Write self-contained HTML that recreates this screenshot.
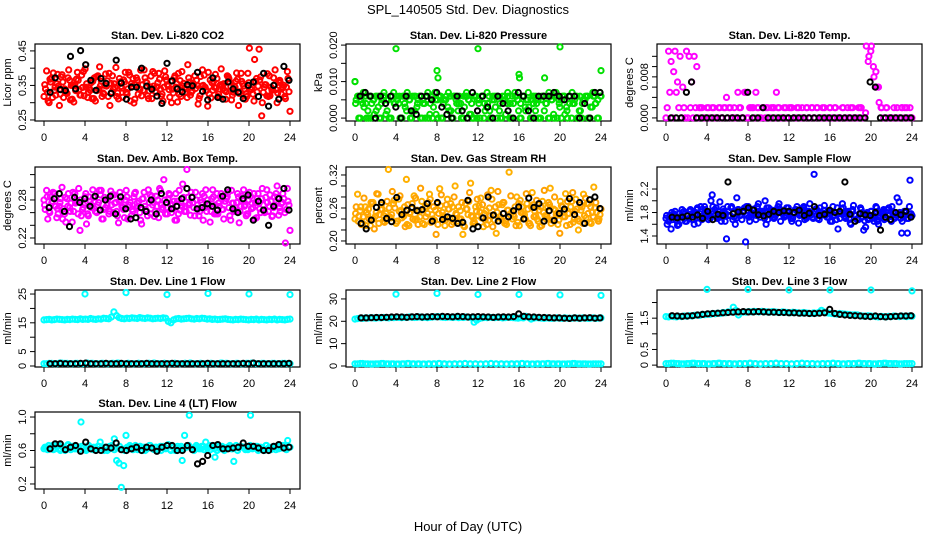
<!DOCTYPE html>
<html><head><meta charset="utf-8">
<style>
body{margin:0;background:#fff;}
svg{display:block;font-family:"Liberation Sans",sans-serif;}
</style></head>
<body>
<svg id="chart" width="936" height="540" viewBox="0 0 936 540" xmlns="http://www.w3.org/2000/svg">
<rect x="0" y="0" width="936" height="540" fill="#fff"/>
<text x="468" y="14" font-size="13" text-anchor="middle">SPL_140505  Std. Dev. Diagnostics</text>
<text x="468" y="531" font-size="13" text-anchor="middle">Hour of Day (UTC)</text>
</svg>
<script>
// ---- data (values in stated units) ----
const hourTicks = [0,4,8,12,16,20,24];
const outlierHours = [4,8,12,16,20,24];
// Panel 1 CO2 (x0.001 ppm)
const co2A = [318,392,300,372,335,355,292,381,340,327,365,310,352,388,322,344,398,315,336,362,305,378,349,328,383,318,356,339,402,311,347,366,330,388,355,299,372,341,320,395,358,334,312,385,346,368,325,392,352,316,339,378,302,364,348,330,410,322,357,341,296,376,350,334,388,314,361,343,325,398,355,332,370,308,348,386,327,362,340,318,458,345,425,331,366,300,352,384,320,340,395,328,358,345,312,370];
const co2B = [340,305,360,386,322,348,375,315,330,395,350,302,368,338,380,320,355,342,312,372,335,404,318,350,363,292,378,345,328,360,316,388,340,305,370,352,325,394,336,360,312,377,348,330,385,318,345,366,338,300,372,355,324,390,342,315,360,334,378,350,320,395,345,290,366,336,382,318,352,340,310,375,347,330,362,292,385,348,325,358,338,305,370,455,262,345,320,378,336,352,300,365,342,318,390,275];
const co2C = [352,330,368,315,345,382,325,360,338,372,308,350,335,365,322,390,345,330,358,312,375,340,362,325,348,385,330,355,318,370,342,360,325,380,348,310,365,338,352,372,320,346,390,332,358,340,305,375,348,362,328,345,385,318,356,340,372,330,352,365,312,348,380,336,325,358,345,370,315,350,335,378,360,322,345,368,332,355,310,385,340,325,362,348,375,330,352,318,345,372,338,360,325,350,345,332];
const co2Black = [330,372,338,335,434,340,451,410,365,336,370,356,327,423,357,310,345,345,400,348,339,319,298,414,363,340,331,352,349,388,333,308,372,315,310,360,340,330,312,350,360,318,385,290,350,310,405,365];
// Panel 2 pressure (x0.001 kPa)
const presA = [10,6,0,4,6,2,0,5,6,3,0,6,1,5,0,7,6,4,0,6,2,5,0,6,3,6,0,4,6,1,0,7,5,6,0,5,3,6,0,6,2,4,0,6,5,1,0,6,4,6,0,3,6,0,5,6,2,0,6,4,0,6,7,5,0,6,3,5,0,6,2,5,0,6,4,0,6,1,7,5,0,6,3,6,0,4,6,2,0,5,6,0,3,6,0,7];
const presB = [5,0,6,3,0,6,4,1,6,0,5,6,2,0,6,4,5,0,6,3,6,0,2,6,5,0,4,6,0,6,3,1,6,0,5,6,2,0,6,4,6,0,3,6,1,0,6,5,0,6,2,4,0,6,3,6,0,5,1,6,0,4,6,2,0,6,5,3,0,6,4,0,6,2,6,0,5,6,0,3,6,1,0,6,4,6,0,2,5,6,0,3,6,4,0,6];
const presC = [4,6,5,7,4,0,6,5,2,6,4,7,5,0,6,4,5,6,0,4,7,5,6,2,4,6,5,0,7,4,6,5,0,6,4,5,7,2,6,5,4,0,6,7,5,4,6,0,5,6,4,7,2,5,6,0,4,6,5,7,4,0,6,5,4,6,2,7,5,4,6,0,5,6,4,7,5,0,6,4,5,6,2,4,7,5,0,6,4,5,6,0,7,4,5,6];
const presBlack = [6,7,6,0,6,4,6,3,0,6,2,1,6,6,5,7,3,1,0,6,2,0,7,2,6,3,0,6,4,2,0,7,6,2,0,6,6,6,7,6,5,6,6,0,4,0,7,7];
const presOutT = [0,4,8,8.1,12,16,16.05,18.5,20,24];
const presOutV = [10,19,13,11,19,12,11,11,19.5,13];
// Panel 3 temp (x0.001 C)
const tempA = [0,13,11,9,5,2,0,2,13,12,7,12,10,2,2,0,2,0,2,0,0,2,0,2,0,2,0,0,5,2,0,5,0,2,2,5,2,0,2,2,0,2,2,5,2,0,2,0,2,2,0,2,0,2,0,2,0,2,0,2,0,2,0,0,2,0,2,0,0,2,0,0,2,0,0,2,2,0,14,12,14,8,6,3,2,0,2,0,0,0,2,0,2,2,0,2];
const tempB = [2,5,0,13,7,12,6,0,0,2,0,2,0,2,0,0,2,0,2,0,2,0,2,4,2,0,2,0,2,0,5,0,2,2,0,2,0,2,0,2,0,2,0,2,0,0,2,0,2,0,0,2,0,0,2,0,2,0,2,0,0,2,0,2,0,2,0,0,2,0,2,0,2,0,0,2,0,1,11,13,10,9,6,2,0,2,0,0,2,0,0,2,0,2,0,0];
const tempBlack = [0,0,0,5,7,0,0,0,0,0,0,0,0,0,0,5,0,0,2,0,0,0,0,0,0,0,0,0,0,0,0,0,0,0,0,0,0,0,0,7,6,0,0,0,0,0,0,0];
// Panel 4 amb box temp (x0.001 C)
const ambA = [280,295,262,275,290,252,270,300,258,282,268,245,290,276,232,265,285,258,278,296,262,272,288,250,268,282,294,260,276,244,280,265,295,272,255,285,268,278,242,292,262,276,286,254,270,298,265,280,258,288,272,248,278,264,305,270,284,256,276,292,266,280,248,296,272,262,285,258,275,290,250,282,268,295,262,276,244,286,270,258,292,275,250,282,266,298,260,276,288,255,272,284,262,290,212,278];
const ambB = [265,250,285,292,270,258,282,266,245,290,275,262,280,298,255,272,242,285,268,278,260,295,250,284,272,262,288,275,255,292,268,280,250,276,262,292,270,248,282,265,296,258,276,286,252,272,312,268,290,260,278,248,295,270,262,328,275,285,255,272,262,290,268,280,245,296,272,258,285,265,278,292,248,275,262,285,270,296,255,280,266,290,252,275,282,262,296,270,254,285,302,268,276,260,298,232];
const ambC = [272,285,260,278,290,266,276,250,284,270,262,292,275,258,280,268,290,255,272,284,262,276,295,265,280,258,272,288,262,278,270,252,285,272,265,290,275,260,282,270,255,288,272,262,280,295,268,258,282,274,266,290,258,276,284,262,272,292,268,280,255,276,286,262,272,282,258,290,270,265,278,285,255,275,268,290,262,280,272,258,286,268,276,290,260,272,284,262,278,268,290,256,274,282,265,272];
const ambBlack = [268,282,290,262,238,284,276,282,270,286,264,280,286,258,285,266,250,252,268,262,280,258,290,276,266,270,282,298,284,266,268,274,270,264,286,296,266,260,282,288,248,278,264,240,270,282,298,264];
// Panel 5 RH (x0.001 percent)
const rhA = [240,285,255,232,262,248,228,270,245,285,258,236,250,330,242,268,232,276,256,245,312,228,260,282,240,254,272,230,262,285,248,238,268,295,252,228,276,242,262,300,236,255,212,268,248,305,232,262,246,278,226,255,238,292,248,214,266,240,270,230,325,252,244,280,228,262,248,268,232,288,254,240,226,272,246,262,296,238,256,230,272,244,286,250,262,234,276,220,256,285,242,268,232,298,252,240];
const rhB = [262,245,230,278,252,240,268,222,286,248,258,234,272,244,290,260,236,282,248,226,266,252,240,278,230,296,256,244,270,234,262,212,250,284,240,266,258,230,280,248,240,270,226,258,288,244,232,276,252,266,238,284,246,226,262,290,244,270,236,256,282,248,228,268,252,240,286,232,262,244,274,256,228,292,246,266,238,280,250,214,262,244,272,230,288,254,240,266,232,278,250,262,244,270,236,258];
const rhC = [250,236,262,244,228,258,270,240,252,232,266,246,238,260,248,274,236,254,242,262,230,250,268,238,256,244,232,262,250,276,240,256,230,264,246,238,258,268,234,250,262,240,228,258,272,246,236,254,264,242,250,230,260,276,238,252,244,266,232,256,248,240,262,234,274,250,240,258,228,266,246,236,262,252,240,270,232,258,248,238,264,254,228,250,272,240,258,236,262,246,268,234,252,260,240,248];
const rhBlack = [232,222,238,261,270,241,235,279,248,256,261,255,257,268,236,270,239,244,241,232,234,274,222,226,242,280,247,236,250,244,255,262,240,278,261,268,236,255,237,250,258,277,248,270,232,275,280,259];
// Panel 6 sample flow (x0.01 ml/min)
const flowA = [170,165,152,178,168,160,175,182,165,170,178,160,185,172,168,190,180,175,210,185,170,198,180,165,190,175,168,160,185,175,180,130,190,175,185,168,195,182,175,160,188,178,170,185,195,180,172,188,180,165,178,190,175,185,168,180,195,172,182,170,188,178,175,182,165,190,180,152,178,188,170,182,160,192,175,168,185,150,178,170,182,165,188,172,180,168,185,175,190,170,205,180,165,175,145,235];
const flowB = [160,175,168,182,158,172,180,165,176,185,168,178,162,190,175,182,168,200,178,188,172,165,182,135,175,190,172,205,180,168,188,175,165,185,178,190,172,182,200,168,185,178,175,190,165,182,176,188,170,180,185,162,178,190,170,182,176,245,185,168,180,192,172,182,165,175,188,170,195,172,180,162,185,175,170,188,178,155,168,182,175,190,160,178,185,170,188,165,180,175,198,145,182,170,190,175];
const flowC = [175,168,180,172,165,178,185,170,176,182,168,175,188,178,172,185,180,170,190,176,182,172,186,178,175,188,180,170,185,176,182,190,172,180,186,175,182,178,170,188,176,184,172,180,186,178,174,182,176,170,185,180,176,188,172,182,178,170,186,180,175,184,178,172,182,176,168,180,186,174,178,170,182,176,168,178,172,166,180,174,170,178,165,175,182,170,176,168,180,172,178,170,176,180,170,178];
const flowBlack = [172,171,172,174,172,176,170,182,168,177,175,232,178,181,182,188,184,176,174,177,182,180,183,182,180,184,175,179,190,175,177,184,180,182,232,177,165,178,176,175,180,150,172,168,180,176,182,172];
// Panel 7 line 1 flow (x0.1 ml/min)
const line1Upper = [160,161,162,160,161,163,162,161,160,162,161,163,162,161,164,162,163,162,165,163,162,164,163,166,165,164,170,188,175,168,165,164,166,165,167,166,165,168,166,165,167,166,164,165,166,165,167,166,155,150,160,164,165,163,164,165,166,164,163,165,164,166,165,163,164,162,163,161,162,163,164,162,161,160,162,161,163,162,161,160,162,161,163,160,162,161,160,162,161,163,160,162,161,160,162,163];
const line1Lower = [8,9,8,10,9,8,9,8,10,9,8,9,8,9,10,8,9,8,9,8,9,10,8,9,8,9,8,9,10,8,9,8,9,8,10,9,8,9,8,9,10,8,9,8,9,8,9,8];
const line1Black = [8,8,9,8,8,8,9,10,8,8,8,9,8,8,9,8,8,8,8,9,8,8,8,8,9,8,8,8,8,8,8,9,8,8,8,8,8,8,9,8,10,8,8,8,8,8,8,9];
const line1Out = [250,255,248,252,250,248];
// Panel 8 line 2 flow (x0.1 ml/min)
const line2Upper = [210,212,214,213,215,214,216,215,214,216,215,217,216,215,217,216,218,217,216,218,217,219,218,217,218,219,217,218,216,218,219,220,221,219,218,217,219,218,217,219,216,218,217,219,218,217,196,205,212,215,217,216,218,217,216,218,217,215,216,218,217,216,215,214,216,215,222,218,210,214,216,215,214,213,215,214,213,214,215,214,213,215,214,213,214,215,214,213,215,214,213,214,215,213,214,215];
const line2Lower = [10,11,10,9,10,11,10,10,9,10,11,10,10,9,10,10,11,10,9,10,10,11,10,10,9,10,11,10,10,9,10,10,11,10,9,10,10,11,10,10,9,10,11,10,10,9,10,10];
const line2Black = [215,215,216,217,217,218,219,220,219,218,220,221,219,220,221,220,222,221,220,222,221,219,220,221,220,219,218,219,220,219,221,233,222,220,219,218,217,216,215,215,214,213,215,214,215,216,214,215];
const line2Out = [321,325,320,320,318,316];
// Panel 9 line 3 flow (x0.01 ml/min)
const line3Upper = [155,154,156,155,154,156,155,157,156,158,157,159,160,159,162,161,163,162,165,164,166,165,168,167,170,169,185,175,160,168,170,169,171,170,172,171,170,172,171,170,169,171,170,169,168,170,169,168,167,169,168,167,166,168,167,166,165,167,166,168,175,170,167,166,165,164,163,165,164,163,162,161,160,161,160,158,157,156,158,157,156,155,154,156,155,154,156,155,157,156,155,157,156,155,157,156];
const line3Lower = [5,6,5,4,5,6,5,5,4,5,6,5,5,4,5,5,6,5,4,5,5,6,5,5,4,5,6,5,5,4,5,5,6,5,4,5,5,6,5,5,4,5,6,5,5,4,5,5];
const line3Black = [158,157,156,157,158,160,162,164,165,166,167,168,169,170,171,170,170,171,170,169,169,168,168,167,167,166,166,165,165,166,167,178,165,162,160,159,158,157,156,155,157,155,154,155,156,157,157,158];
const line3Out = [242,242,240,240,240,237];
// Panel 10 line 4 flow (x0.01 ml/min)
const line4Cyan = [62,64,66,63,61,65,67,62,64,60,66,63,65,62,64,61,65,63,62,66,64,61,63,65,70,62,64,60,65,63,74,48,45,16,42,78,62,64,61,66,63,65,60,64,62,66,63,61,64,62,60,65,63,67,61,64,60,65,63,48,78,65,102,63,61,66,64,62,65,70,63,61,64,52,66,62,65,60,63,64,62,47,66,63,65,64,61,63,66,62,64,65,61,63,60,66,62,64,63,61,65,63,66,62,72,64];
const line4CyanB = [64,61,63,66,62,65,60,64,63,67,61,65,62,64,94,63,60,66,62,64,61,65,63,60,64,62,66,61,63,65,62,60,64,66,62,63,61,65,64,60,63,66,62,64,61,65,63,62,66,60,64,63,61,65,62,64,66,63,60,64,62,65,61,63,66,64,62,60,65,63,61,64,66,62,63,60,65,64,62,61,102,63,65,60,64,62,66,63,61,64,65,62,63,66,61,64];
const line4Black = [62,68,68,61,64,66,59,70,62,60,60,64,63,69,61,60,62,64,60,64,63,59,64,66,66,60,60,66,61,44,47,54,66,67,62,62,63,64,69,65,65,63,60,60,65,67,63,64];

// ---- layout ----
const colLeft = [35,346,657];
const rowTop = [44,167,290,412];
const BW = 265, BH = 77;
const svg = document.getElementById('chart');
const NS = 'http://www.w3.org/2000/svg';
function mk(tag, attrs, parent){const e=document.createElementNS(NS,tag);for(const k in attrs)e.setAttribute(k,attrs[k]);(parent||svg).appendChild(e);return e;}

function panel(cfg){
  const g = mk('g',{});
  
  
  const L=colLeft[cfg.col], T=rowTop[cfg.row];
  const xs = t => L + 9 + t/24*246;
  const ys = v => T + BH - (v - cfg.lo)/(cfg.hi - cfg.lo)*BH;
  cfg.xs=xs; cfg.ys=ys; cfg.g=g;
  const tt = mk('text',{x:L+BW/2,y:T-5,'font-size':11,'font-weight':'bold','text-anchor':'middle'},g);
  tt.textContent = cfg.title;
  
  
  const xa = mk('g',{},g);
  
  
  hourTicks.forEach(h=>{
    mk('line',{x1:xs(h),x2:xs(h),y1:T+BH,y2:T+BH+5,stroke:'#000','stroke-width':1},xa);
    const tl = mk('text',{x:xs(h),y:T+BH+20,'font-size':11,'text-anchor':'middle'},xa);
    tl.textContent = h;
    
    
  });
  const ya = mk('g',{},g);
  
  
  cfg.ticks.forEach((v,i)=>{
    mk('line',{x1:L-5,x2:L,y1:ys(v),y2:ys(v),stroke:'#000','stroke-width':1},ya);
    if(cfg.labels[i]!==''){
      const yl = mk('text',{x:0,y:0,'font-size':11,'text-anchor':'middle',transform:`translate(${L-9},${ys(v)}) rotate(-90)`},ya);
      yl.textContent = cfg.labels[i];
      
      
    }
  });
  const yt = mk('text',{x:0,y:0,'font-size':11,'text-anchor':'middle',transform:`translate(${L-24},${T+BH/2}) rotate(-90)`},g);
  yt.textContent = cfg.ylab;
  
  
  mk('rect',{x:L,y:T,width:BW,height:BH,fill:'none',stroke:'#000','stroke-width':1.2},g);
  return cfg;
}
function series(cfg, vals, unit, color, t0, t1, name){
  const s = mk('g',{fill:'none',stroke:color,'stroke-width':2},cfg.g);
  
  
  const n = vals.length;
  vals.forEach((v,i)=>{
    const t = n>1 ? t0 + (t1-t0)*i/(n-1) : t0;
    const c = mk('circle',{cx:cfg.xs(t).toFixed(1),cy:cfg.ys(v*unit).toFixed(1),r:2.6},s);
    
    
  });
}
function seriesAt(cfg, times, vals, unit, color, name){
  const s = mk('g',{fill:'none',stroke:color,'stroke-width':2},cfg.g);
  
  
  vals.forEach((v,i)=>{
    const c = mk('circle',{cx:cfg.xs(times[i]).toFixed(1),cy:cfg.ys(v*unit).toFixed(1),r:2.6},s);
    
    
  });
}

const p1 = panel({name:'panel-co2',title:'Stan. Dev. Li-820 CO2',ylab:'Licor ppm',col:0,row:0,lo:0.247,hi:0.470,ticks:[0.25,0.30,0.35,0.40,0.45],labels:['0.25','','0.35','','0.45']});
series(p1,co2A,0.001,'#ff0000',0,23.8,'co2-series-a');
series(p1,co2B,0.001,'#ff0000',0.15,24,'co2-series-b');
series(p1,co2C,0.001,'#ff0000',0.08,23.9,'co2-series-c');
series(p1,co2Black,0.001,'#000000',0.6,23.9,'co2-black-series');

const p2 = panel({name:'panel-pressure',title:'Stan. Dev. Li-820 Pressure',ylab:'kPa',col:1,row:0,lo:-0.0008,hi:0.0203,ticks:[0,0.005,0.010,0.015,0.020],labels:['0.000','','0.010','','0.020']});
series(p2,presA,0.001,'#00e000',0,23.9,'pressure-series-a');
series(p2,presB,0.001,'#00e000',0.12,24,'pressure-series-b');
series(p2,presC,0.001,'#00e000',0.06,23.95,'pressure-series-c');
seriesAt(p2,presOutT,presOutV,0.001,'#00e000','pressure-outliers');
series(p2,presBlack,0.001,'#000000',0.5,23.9,'pressure-black-series');

const p3 = panel({name:'panel-li820-temp',title:'Stan. Dev. Li-820 Temp.',ylab:'degrees C',col:2,row:0,lo:-0.0006,hi:0.0144,ticks:[0,0.002,0.004,0.006,0.008,0.010,0.012],labels:['0.000','','','','0.008','','']});
series(p3,tempA,0.001,'#ff00ff',0,23.8,'temp-series-a');
series(p3,tempB,0.001,'#ff00ff',0.12,24,'temp-series-b');
series(p3,tempBlack,0.001,'#000000',0.5,23.9,'temp-black-series');

const p4 = panel({name:'panel-amb-box-temp',title:'Stan. Dev. Amb. Box Temp.',ylab:'degrees C',col:0,row:1,lo:0.2105,hi:0.332,ticks:[0.22,0.24,0.26,0.28,0.30,0.32],labels:['0.22','','','0.28','','']});
series(p4,ambA,0.001,'#ff00ff',0,23.8,'amb-series-a');
series(p4,ambB,0.001,'#ff00ff',0.12,24,'amb-series-b');
series(p4,ambC,0.001,'#ff00ff',0.06,23.9,'amb-series-c');
series(p4,ambBlack,0.001,'#000000',0.5,23.9,'amb-black-series');

const p5 = panel({name:'panel-gas-rh',title:'Stan. Dev. Gas Stream RH',ylab:'percent',col:1,row:1,lo:0.1945,hi:0.3345,ticks:[0.20,0.22,0.24,0.26,0.28,0.30,0.32],labels:['0.20','','','0.26','','','0.32']});
series(p5,rhA,0.001,'#ffb000',0,23.8,'rh-series-a');
series(p5,rhB,0.001,'#ffa000',0.12,24,'rh-series-b');
series(p5,rhC,0.001,'#ffa800',0.06,23.9,'rh-series-c');
series(p5,rhBlack,0.001,'#000000',0.6,23.9,'rh-black-series');

const p6 = panel({name:'panel-sample-flow',title:'Stan. Dev. Sample Flow',ylab:'ml/min',col:2,row:1,lo:1.264,hi:2.575,ticks:[1.4,1.6,1.8,2.0,2.2],labels:['1.4','','1.8','','2.2']});
series(p6,flowA,0.01,'#0000ff',0,23.8,'flow-series-a');
series(p6,flowB,0.01,'#0000ff',0.12,24,'flow-series-b');
series(p6,flowC,0.01,'#0000ff',0.06,23.9,'flow-series-c');
series(p6,flowBlack,0.01,'#000000',0.6,23.9,'flow-black-series');

const p7 = panel({name:'panel-line1-flow',title:'Stan. Dev. Line 1 Flow',ylab:'ml/min',col:0,row:2,lo:-0.35,hi:26.4,ticks:[0,5,10,15,20,25],labels:['0','5','','15','','25']});
series(p7,line1Upper,0.1,'#00ffff',0,24,'line1-cyan-upper');
series(p7,line1Lower,0.1,'#00ffff',0,24,'line1-cyan-lower');
series(p7,line1Lower,0.1,'#00ffff',0.25,23.75,'line1-cyan-lower-offset');
seriesAt(p7,outlierHours,line1Out,0.1,'#00ffff','line1-outliers');
series(p7,line1Black,0.1,'#000000',0.6,23.9,'line1-black-series');

const p8 = panel({name:'panel-line2-flow',title:'Stan. Dev. Line 2 Flow',ylab:'ml/min',col:1,row:2,lo:-0.45,hi:34,ticks:[0,10,20,30],labels:['0','10','20','30']});
series(p8,line2Upper,0.1,'#00ffff',0,24,'line2-cyan-upper');
series(p8,line2Lower,0.1,'#00ffff',0,24,'line2-cyan-lower');
series(p8,line2Lower,0.1,'#00ffff',0.25,23.75,'line2-cyan-lower-offset');
seriesAt(p8,outlierHours,line2Out,0.1,'#00ffff','line2-outliers');
series(p8,line2Black,0.1,'#000000',0.6,23.9,'line2-black-series');

const p9 = panel({name:'panel-line3-flow',title:'Stan. Dev. Line 3 Flow',ylab:'ml/min',col:2,row:2,lo:-0.06,hi:2.4,ticks:[0,0.5,1.0,1.5,2.0],labels:['0','0.5','','1.5','']});
series(p9,line3Upper,0.01,'#00ffff',0,24,'line3-cyan-upper');
series(p9,line3Lower,0.01,'#00ffff',0,24,'line3-cyan-lower');
series(p9,line3Lower,0.01,'#00ffff',0.25,23.75,'line3-cyan-lower-offset');
seriesAt(p9,outlierHours,line3Out,0.01,'#00ffff','line3-outliers');
series(p9,line3Black,0.01,'#000000',0.6,23.9,'line3-black-series');

const p10 = panel({name:'panel-line4-flow',title:'Stan. Dev. Line 4 (LT) Flow',ylab:'ml/min',col:0,row:3,lo:0.14,hi:1.06,ticks:[0.2,0.4,0.6,0.8,1.0],labels:['0.2','','0.6','','1.0']});
series(p10,line4Cyan,0.01,'#00ffff',0,24,'line4-cyan-series-a');
series(p10,line4CyanB,0.01,'#00ffff',0.1,23.9,'line4-cyan-series-b');
series(p10,line4Black,0.01,'#000000',0.6,23.9,'line4-black-series');
</script>
</body></html>
